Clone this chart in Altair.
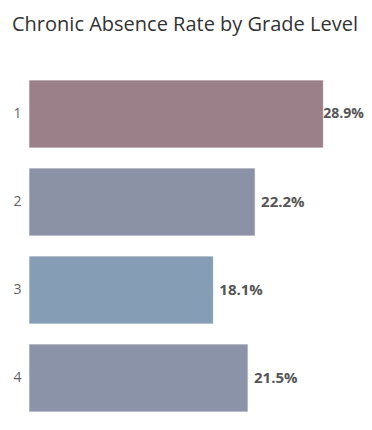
import altair as alt
import pandas as pd

grades = ["1", "2", "3", "4"]
rates = [28.9, 22.2, 18.1, 21.5]
labels = ["28.9%", "22.2%", "18.1%", "21.5%"]
colors = ["#9b7f89", "#8c92a6", "#859eb6", "#8a93a7"]

df = pd.DataFrame({"grade": grades, "rate": rates, "label": labels, "color": colors})

x = alt.X("rate:Q", scale=alt.Scale(domain=[0, 32.4], nice=False, zero=True), axis=None)
y = alt.Y("grade:N", sort=grades,
          scale=alt.Scale(paddingInner=0.23, paddingOuter=0.115),
          axis=alt.Axis(title=None, domain=False, ticks=False, grid=False,
                        labelFont="Open Sans", labelFontSize=14, labelColor="#5f5f5f",
                        labelPadding=8))

base = alt.Chart(df)

bars = base.mark_bar(stroke="#ffffff", strokeOpacity=0.6, strokeWidth=1).encode(
    x=x, y=y, color=alt.Color("color:N", scale=None)
)

text_out = base.transform_filter("datum.rate < 25").mark_text(
    align="left", baseline="middle", dx=6, font="Open Sans", fontSize=15,
    fontWeight="bold", color="#555555"
).encode(x=x, y=y, text="label:N")

text_top = base.transform_filter("datum.rate >= 25").mark_text(
    align="left", baseline="middle", dx=0, font="Open Sans", fontSize=14,
    fontWeight="bold", color="#555555"
).encode(x=x, y=y, text="label:N")

chart = (bars + text_out + text_top).properties(
    width=330, height=352,
    title=alt.TitleParams("Chronic Absence Rate by Grade Level", anchor="start",
                          frame="group", font="Open Sans", fontSize=20,
                          fontWeight="normal", color="#333333", dx=-17, offset=35),
    autosize=alt.AutoSizeParams(type="none"),
    padding={"left": 21, "top": 62, "right": 5, "bottom": 0},
).configure_view(stroke=None)

chart.save("out.html", embed_options={"renderer": "svg", "actions": False})
